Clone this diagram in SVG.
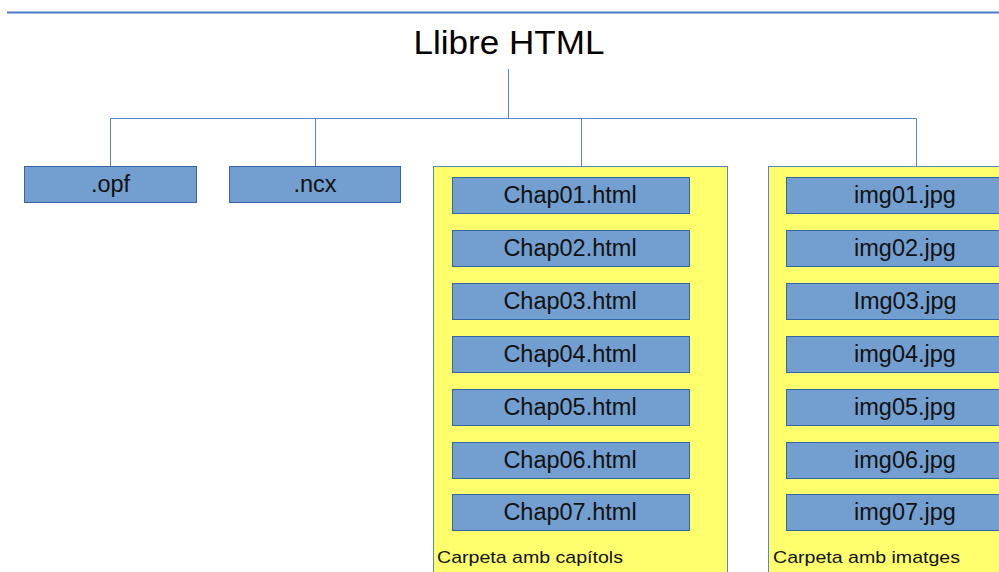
<svg xmlns="http://www.w3.org/2000/svg" width="999" height="572" viewBox="0 0 999 572">
<style>
.bg{fill:#ffffff}
.box{fill:#729fcf;stroke:#3465a4;stroke-width:1}
.folder{fill:#ffff6d;stroke:#5b86c5;stroke-width:1}
.lbl{font-family:"Liberation Sans",Arial,sans-serif;font-size:23.5px;fill:#111111;text-anchor:middle}
.flbl{font-family:"Liberation Sans",Arial,sans-serif;font-size:17px;fill:#111111}
.title{font-family:"Liberation Sans",Arial,sans-serif;font-size:33px;fill:#000000;text-anchor:middle}
.conn{fill:none;stroke:#5b86c5;stroke-width:1}
</style>
<rect class="bg" x="0" y="0" width="999" height="572"/>
<line x1="7" y1="12.5" x2="999" y2="12.5" stroke="#4a7cc4" stroke-width="2"/>
<g id="title"><text class="title" x="509" y="54" textLength="191" lengthAdjust="spacingAndGlyphs">Llibre HTML</text></g>
<g id="connectors">
<path class="conn" d="M508.5 69 V118.5 M110.5 166 V118.5 H916.5 V166 M315.5 118.5 V166 M581.5 118.5 V166"/>
</g>
<g id="opf"><rect class="box" x="24.5" y="166.5" width="172" height="36"/><text class="lbl" x="110.5" y="192">.opf</text></g>
<g id="ncx"><rect class="box" x="229.5" y="166.5" width="171" height="36"/><text class="lbl" x="315" y="192">.ncx</text></g>
<g id="chapters">
<rect class="folder" x="433.5" y="166.5" width="294" height="420"/>
<text class="flbl" x="437" y="563" textLength="186" lengthAdjust="spacingAndGlyphs">Carpeta amb capítols</text>
</g>
<g id="chap01"><rect class="box" x="452.5" y="177.5" width="237" height="36"/><text class="lbl" x="570" y="203">Chap01.html</text></g>
<g id="chap02"><rect class="box" x="452.5" y="230.5" width="237" height="36"/><text class="lbl" x="570" y="256">Chap02.html</text></g>
<g id="chap03"><rect class="box" x="452.5" y="283.5" width="237" height="36"/><text class="lbl" x="570" y="309">Chap03.html</text></g>
<g id="chap04"><rect class="box" x="452.5" y="336.5" width="237" height="36"/><text class="lbl" x="570" y="362">Chap04.html</text></g>
<g id="chap05"><rect class="box" x="452.5" y="389.5" width="237" height="36"/><text class="lbl" x="570" y="415">Chap05.html</text></g>
<g id="chap06"><rect class="box" x="452.5" y="442.5" width="237" height="36"/><text class="lbl" x="570" y="468">Chap06.html</text></g>
<g id="chap07"><rect class="box" x="452.5" y="494.5" width="237" height="36"/><text class="lbl" x="570" y="520">Chap07.html</text></g>
<g id="images">
<rect class="folder" x="768.5" y="166.5" width="294" height="420"/>
<text class="flbl" x="773" y="563" textLength="187" lengthAdjust="spacingAndGlyphs">Carpeta amb imatges</text>
</g>
<g id="img01"><rect class="box" x="786.5" y="177.5" width="237" height="36"/><text class="lbl" x="905" y="203">img01.jpg</text></g>
<g id="img02"><rect class="box" x="786.5" y="230.5" width="237" height="36"/><text class="lbl" x="905" y="256">img02.jpg</text></g>
<g id="img03"><rect class="box" x="786.5" y="283.5" width="237" height="36"/><text class="lbl" x="905" y="309">Img03.jpg</text></g>
<g id="img04"><rect class="box" x="786.5" y="336.5" width="237" height="36"/><text class="lbl" x="905" y="362">img04.jpg</text></g>
<g id="img05"><rect class="box" x="786.5" y="389.5" width="237" height="36"/><text class="lbl" x="905" y="415">img05.jpg</text></g>
<g id="img06"><rect class="box" x="786.5" y="442.5" width="237" height="36"/><text class="lbl" x="905" y="468">img06.jpg</text></g>
<g id="img07"><rect class="box" x="786.5" y="494.5" width="237" height="36"/><text class="lbl" x="905" y="520">img07.jpg</text></g>
</svg>
